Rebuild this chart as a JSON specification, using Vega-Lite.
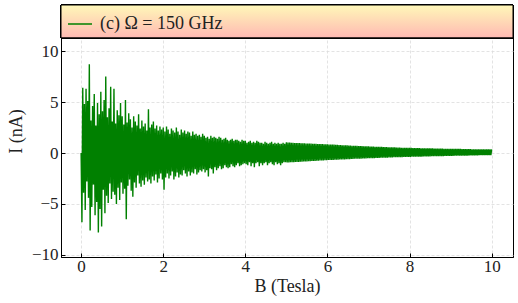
{
"$schema": "https://vega.github.io/schema/vega-lite/v6.json",
"width": 452, "height": 252,
"autosize": "none",
"padding": {"left": 61, "top": 5, "right": 5, "bottom": 46},
"config": {
  "view": {"stroke": "black", "strokeWidth": 1},
  "font": "Liberation Serif",
  "axis": {"domainColor": "black", "tickColor": "black", "tickSize": -4, "labelFont": "Liberation Serif", "labelFontSize": 17, "labelColor": "#222", "titleFont": "Liberation Serif", "titleFontSize": 18, "titleFontWeight": "normal", "titleColor": "#222", "gridColor": "#dcdcdc", "gridDash": [3, 2], "gridWidth": 0.8},
  "legend": {"orient": "top-left", "offset": 6, "padding": 0, "symbolType": "stroke", "symbolSize": 576, "symbolStrokeWidth": 1.5, "labelFont": "Liberation Serif", "labelFontSize": 18, "labelColor": "#222", "labelOffset": 7}
},
"data": {"values": [
{"B":0,"I":0},{"B":0.02,"I":-6.8},{"B":0.04,"I":6.4},{"B":0.06,"I":-3.9},{"B":0.08,"I":4.8},{"B":0.1,"I":-5.6},{"B":0.12,"I":6.3},{"B":0.14,"I":-2.8},{"B":0.16,"I":5.1},{"B":0.18,"I":-4.4},
{"B":0.2,"I":8.7},{"B":0.22,"I":-7.6},{"B":0.24,"I":3.2},{"B":0.26,"I":-5.3},{"B":0.28,"I":4.6},{"B":0.3,"I":-3.1},{"B":0.32,"I":5.8},{"B":0.34,"I":-6.1},{"B":0.36,"I":2.7},{"B":0.38,"I":-4.8},
{"B":0.4,"I":4.9},{"B":0.42,"I":-7.8},{"B":0.44,"I":3.8},{"B":0.46,"I":-5.5},{"B":0.48,"I":6.0},{"B":0.5,"I":-7.2},{"B":0.52,"I":4.1},{"B":0.54,"I":-3.6},{"B":0.56,"I":5.2},{"B":0.58,"I":-5.9},
{"B":0.6,"I":7.5},{"B":0.62,"I":-4.2},{"B":0.64,"I":3.5},{"B":0.66,"I":-4.9},{"B":0.68,"I":4.4},{"B":0.7,"I":-3.0},{"B":0.72,"I":6.5},{"B":0.74,"I":-4.5},{"B":0.76,"I":3.1},{"B":0.78,"I":-3.8},
{"B":0.8,"I":6.3},{"B":0.82,"I":-4.1},{"B":0.84,"I":2.9},{"B":0.86,"I":-5.0},{"B":0.88,"I":4.2},{"B":0.9,"I":-3.4},{"B":0.92,"I":3.7},{"B":0.94,"I":-4.6},{"B":0.96,"I":4.9},{"B":0.98,"I":-2.9},
{"B":1.0,"I":3.6},{"B":1.02,"I":-4.0},{"B":1.04,"I":2.8},{"B":1.06,"I":-3.5},{"B":1.08,"I":5.2},{"B":1.1,"I":-6.5},{"B":1.12,"I":3.0},{"B":1.14,"I":-3.2},{"B":1.16,"I":3.9},{"B":1.18,"I":-2.6},
{"B":1.2,"I":3.3},{"B":1.22,"I":-3.7},{"B":1.24,"I":2.5},{"B":1.26,"I":-4.3},{"B":1.28,"I":3.6},{"B":1.3,"I":-2.9},{"B":1.32,"I":3.1},{"B":1.34,"I":-3.4},{"B":1.36,"I":2.7},{"B":1.38,"I":-2.2},
{"B":1.4,"I":3.8},{"B":1.42,"I":-3.0},{"B":1.44,"I":2.4},{"B":1.46,"I":-3.3},{"B":1.48,"I":3.2},{"B":1.5,"I":-2.7},{"B":1.52,"I":2.6},{"B":1.54,"I":-3.1},{"B":1.56,"I":2.9},{"B":1.58,"I":-2.4},
{"B":1.6,"I":2.2},{"B":1.62,"I":-2.8},{"B":1.64,"I":4.3},{"B":1.66,"I":-2.6},{"B":1.68,"I":2.5},{"B":1.7,"I":-3.0},{"B":1.72,"I":2.8},{"B":1.74,"I":-2.3},{"B":1.76,"I":3.1},{"B":1.78,"I":-2.7},
{"B":1.8,"I":2.4},{"B":1.82,"I":-2.1},{"B":1.84,"I":2.7},{"B":1.86,"I":-2.9},{"B":1.88,"I":2.2},{"B":1.9,"I":-2.5},{"B":1.92,"I":2.6},{"B":1.94,"I":-2.0},{"B":1.96,"I":2.3},{"B":1.98,"I":-2.6},
{"B":2.0,"I":2.5},{"B":2.02,"I":-3.6},{"B":2.04,"I":2.1},{"B":2.06,"I":-2.4},{"B":2.08,"I":2.6},{"B":2.1,"I":-2.0},{"B":2.12,"I":2.3},{"B":2.14,"I":-2.5},{"B":2.16,"I":1.9},{"B":2.18,"I":-2.2},
{"B":2.2,"I":2.4},{"B":2.22,"I":-1.8},{"B":2.24,"I":2.2},{"B":2.26,"I":-2.6},{"B":2.28,"I":2.0},{"B":2.3,"I":-2.3},{"B":2.32,"I":2.5},{"B":2.34,"I":-1.9},{"B":2.36,"I":2.1},{"B":2.38,"I":-2.4},
{"B":2.4,"I":1.8},{"B":2.42,"I":-2.1},{"B":2.44,"I":2.3},{"B":2.46,"I":-2.2},{"B":2.48,"I":2.0},{"B":2.5,"I":-1.7},{"B":2.52,"I":2.2},{"B":2.54,"I":-2.0},{"B":2.56,"I":1.9},{"B":2.58,"I":-2.3},
{"B":2.6,"I":2.1},{"B":2.62,"I":-1.8},{"B":2.64,"I":2.0},{"B":2.66,"I":-2.2},{"B":2.68,"I":1.7},{"B":2.7,"I":-1.9},{"B":2.72,"I":2.1},{"B":2.74,"I":-2.0},{"B":2.76,"I":1.8},{"B":2.78,"I":-1.6},
{"B":2.8,"I":1.9},{"B":2.82,"I":-2.1},{"B":2.84,"I":1.7},{"B":2.86,"I":-1.9},{"B":2.88,"I":1.8},{"B":2.9,"I":-1.7},{"B":2.92,"I":1.6},{"B":2.94,"I":-1.8},{"B":2.96,"I":1.9},{"B":2.98,"I":-1.6},
{"B":3.0,"I":1.7},{"B":3.02,"I":-1.9},{"B":3.04,"I":1.5},{"B":3.06,"I":-1.7},{"B":3.08,"I":1.6},{"B":3.1,"I":-2.3},{"B":3.12,"I":1.4},{"B":3.14,"I":-1.5},{"B":3.16,"I":1.7},{"B":3.18,"I":-1.6},
{"B":3.2,"I":1.5},{"B":3.22,"I":-2.0},{"B":3.24,"I":1.6},{"B":3.26,"I":-1.4},{"B":3.28,"I":1.5},{"B":3.3,"I":-1.7},{"B":3.32,"I":1.4},{"B":3.34,"I":-1.5},{"B":3.36,"I":1.6},{"B":3.38,"I":-1.3},
{"B":3.4,"I":1.5},{"B":3.42,"I":-1.6},{"B":3.44,"I":1.3},{"B":3.46,"I":-1.5},{"B":3.48,"I":1.4},{"B":3.5,"I":-1.2},{"B":3.52,"I":1.5},{"B":3.54,"I":-1.4},{"B":3.56,"I":1.3},{"B":3.58,"I":-1.5},
{"B":3.6,"I":1.2},{"B":3.62,"I":-1.4},{"B":3.64,"I":1.3},{"B":3.66,"I":-1.1},{"B":3.68,"I":1.4},{"B":3.7,"I":-1.3},{"B":3.72,"I":1.2},{"B":3.74,"I":-1.4},{"B":3.76,"I":1.3},{"B":3.78,"I":-1.2},
{"B":3.8,"I":1.3},{"B":3.82,"I":-1.0},{"B":3.84,"I":1.2},{"B":3.86,"I":-1.3},{"B":3.88,"I":1.1},{"B":3.9,"I":-1.2},{"B":3.92,"I":1.3},{"B":3.94,"I":-1.1},{"B":3.96,"I":1.2},{"B":3.98,"I":-1.0},
{"B":4.0,"I":1.2},{"B":4.02,"I":-1.1},{"B":4.04,"I":1.0},{"B":4.06,"I":-1.2},{"B":4.08,"I":1.1},{"B":4.1,"I":-0.9},{"B":4.12,"I":1.2},{"B":4.14,"I":-1.3},{"B":4.16,"I":1.0},{"B":4.18,"I":-1.0},
{"B":4.2,"I":1.1},{"B":4.22,"I":-1.4},{"B":4.24,"I":1.0},{"B":4.26,"I":-1.0},{"B":4.28,"I":1.2},{"B":4.3,"I":-0.9},{"B":4.32,"I":1.1},{"B":4.34,"I":-1.3},{"B":4.36,"I":1.0},{"B":4.38,"I":-1.0},
{"B":4.4,"I":1.0},{"B":4.42,"I":-1.2},{"B":4.44,"I":0.9},{"B":4.46,"I":-1.0},{"B":4.48,"I":1.1},{"B":4.5,"I":-0.9},{"B":4.52,"I":1.0},{"B":4.54,"I":-1.2},{"B":4.56,"I":0.9},{"B":4.58,"I":-1.0},
{"B":4.6,"I":1.0},{"B":4.62,"I":-0.9},{"B":4.64,"I":1.1},{"B":4.66,"I":-1.1},{"B":4.68,"I":0.9},{"B":4.7,"I":-1.2},{"B":4.72,"I":1.0},{"B":4.74,"I":-0.9},{"B":4.76,"I":0.9},{"B":4.78,"I":-1.1},
{"B":4.8,"I":1.0},{"B":4.82,"I":-1.0},{"B":4.84,"I":0.9},{"B":4.86,"I":-1.2},{"B":4.88,"I":0.9},{"B":4.9,"I":-1.0},{"B":4.92,"I":1.0},{"B":4.94,"I":-0.9},{"B":4.96,"I":0.9},{"B":4.98,"I":-0.9},
{"B":5.0,"I":1.05},
{"B":5.02,"I":-0.93},{"B":5.04,"I":1.02},{"B":5.06,"I":-0.92},{"B":5.08,"I":1.02},{"B":5.1,"I":-0.91},{"B":5.12,"I":1.01},{"B":5.14,"I":-0.91},{"B":5.16,"I":1.0},{"B":5.18,"I":-0.9},{"B":5.2,"I":0.99},
{"B":5.22,"I":-0.89},{"B":5.24,"I":0.99},{"B":5.26,"I":-0.88},{"B":5.28,"I":0.98},{"B":5.3,"I":-0.87},{"B":5.32,"I":0.97},{"B":5.34,"I":-0.86},{"B":5.36,"I":0.96},{"B":5.38,"I":-0.85},{"B":5.4,"I":0.96},
{"B":5.42,"I":-0.84},{"B":5.44,"I":0.95},{"B":5.46,"I":-0.83},{"B":5.48,"I":0.94},{"B":5.5,"I":-0.82},{"B":5.52,"I":0.93},{"B":5.54,"I":-0.81},{"B":5.56,"I":0.93},{"B":5.58,"I":-0.8},{"B":5.6,"I":0.92},
{"B":5.62,"I":-0.79},{"B":5.64,"I":0.91},{"B":5.66,"I":-0.78},{"B":5.68,"I":0.9},{"B":5.7,"I":-0.77},{"B":5.72,"I":0.9},{"B":5.74,"I":-0.76},{"B":5.76,"I":0.89},{"B":5.78,"I":-0.75},{"B":5.8,"I":0.88},
{"B":5.82,"I":-0.74},{"B":5.84,"I":0.87},{"B":5.86,"I":-0.73},{"B":5.88,"I":0.87},{"B":5.9,"I":-0.72},{"B":5.92,"I":0.86},{"B":5.94,"I":-0.71},{"B":5.96,"I":0.85},{"B":5.98,"I":-0.7},{"B":6.0,"I":0.85},
{"B":6.02,"I":-0.69},{"B":6.04,"I":0.84},{"B":6.06,"I":-0.69},{"B":6.08,"I":0.83},{"B":6.1,"I":-0.68},{"B":6.12,"I":0.82},{"B":6.14,"I":-0.67},{"B":6.16,"I":0.82},{"B":6.18,"I":-0.66},{"B":6.2,"I":0.81},
{"B":6.22,"I":-0.66},{"B":6.24,"I":0.8},{"B":6.26,"I":-0.65},{"B":6.28,"I":0.79},{"B":6.3,"I":-0.64},{"B":6.32,"I":0.78},{"B":6.34,"I":-0.63},{"B":6.36,"I":0.77},{"B":6.38,"I":-0.63},{"B":6.4,"I":0.77},
{"B":6.42,"I":-0.62},{"B":6.44,"I":0.76},{"B":6.46,"I":-0.61},{"B":6.48,"I":0.75},{"B":6.5,"I":-0.6},{"B":6.52,"I":0.74},{"B":6.54,"I":-0.6},{"B":6.56,"I":0.73},{"B":6.58,"I":-0.59},{"B":6.6,"I":0.72},
{"B":6.62,"I":-0.58},{"B":6.64,"I":0.72},{"B":6.66,"I":-0.57},{"B":6.68,"I":0.71},{"B":6.7,"I":-0.57},{"B":6.72,"I":0.7},{"B":6.74,"I":-0.56},{"B":6.76,"I":0.69},{"B":6.78,"I":-0.55},{"B":6.8,"I":0.68},
{"B":6.82,"I":-0.55},{"B":6.84,"I":0.68},{"B":6.86,"I":-0.54},{"B":6.88,"I":0.67},{"B":6.9,"I":-0.53},{"B":6.92,"I":0.66},{"B":6.94,"I":-0.53},{"B":6.96,"I":0.66},{"B":6.98,"I":-0.52},{"B":7.0,"I":0.65},
{"B":7.02,"I":-0.51},{"B":7.04,"I":0.64},{"B":7.06,"I":-0.51},{"B":7.08,"I":0.64},{"B":7.1,"I":-0.5},{"B":7.12,"I":0.63},{"B":7.14,"I":-0.5},{"B":7.16,"I":0.62},{"B":7.18,"I":-0.49},{"B":7.2,"I":0.62},
{"B":7.22,"I":-0.48},{"B":7.24,"I":0.61},{"B":7.26,"I":-0.48},{"B":7.28,"I":0.6},{"B":7.3,"I":-0.47},{"B":7.32,"I":0.6},{"B":7.34,"I":-0.47},{"B":7.36,"I":0.59},{"B":7.38,"I":-0.46},{"B":7.4,"I":0.58},
{"B":7.42,"I":-0.45},{"B":7.44,"I":0.58},{"B":7.46,"I":-0.45},{"B":7.48,"I":0.57},{"B":7.5,"I":-0.44},{"B":7.52,"I":0.57},{"B":7.54,"I":-0.44},{"B":7.56,"I":0.56},{"B":7.58,"I":-0.43},{"B":7.6,"I":0.55},
{"B":7.62,"I":-0.42},{"B":7.64,"I":0.55},{"B":7.66,"I":-0.42},{"B":7.68,"I":0.54},{"B":7.7,"I":-0.41},{"B":7.72,"I":0.54},{"B":7.74,"I":-0.41},{"B":7.76,"I":0.53},{"B":7.78,"I":-0.4},{"B":7.8,"I":0.52},
{"B":7.82,"I":-0.4},{"B":7.84,"I":0.52},{"B":7.86,"I":-0.39},{"B":7.88,"I":0.51},{"B":7.9,"I":-0.39},{"B":7.92,"I":0.51},{"B":7.94,"I":-0.38},{"B":7.96,"I":0.5},{"B":7.98,"I":-0.38},{"B":8.0,"I":0.5},
{"B":8.02,"I":-0.38},{"B":8.04,"I":0.5},{"B":8.06,"I":-0.37},{"B":8.08,"I":0.49},{"B":8.1,"I":-0.37},{"B":8.12,"I":0.49},{"B":8.14,"I":-0.36},{"B":8.16,"I":0.49},{"B":8.18,"I":-0.36},{"B":8.2,"I":0.48},
{"B":8.22,"I":-0.35},{"B":8.24,"I":0.48},{"B":8.26,"I":-0.35},{"B":8.28,"I":0.47},{"B":8.3,"I":-0.35},{"B":8.32,"I":0.47},{"B":8.34,"I":-0.34},{"B":8.36,"I":0.47},{"B":8.38,"I":-0.34},{"B":8.4,"I":0.46},
{"B":8.42,"I":-0.33},{"B":8.44,"I":0.46},{"B":8.46,"I":-0.33},{"B":8.48,"I":0.45},{"B":8.5,"I":-0.33},{"B":8.52,"I":0.45},{"B":8.54,"I":-0.32},{"B":8.56,"I":0.45},{"B":8.58,"I":-0.32},{"B":8.6,"I":0.44},
{"B":8.62,"I":-0.31},{"B":8.64,"I":0.44},{"B":8.66,"I":-0.31},{"B":8.68,"I":0.44},{"B":8.7,"I":-0.31},{"B":8.72,"I":0.43},{"B":8.74,"I":-0.3},{"B":8.76,"I":0.43},{"B":8.78,"I":-0.3},{"B":8.8,"I":0.43},
{"B":8.82,"I":-0.3},{"B":8.84,"I":0.42},{"B":8.86,"I":-0.29},{"B":8.88,"I":0.42},{"B":8.9,"I":-0.29},{"B":8.92,"I":0.42},{"B":8.94,"I":-0.28},{"B":8.96,"I":0.42},{"B":8.98,"I":-0.28},{"B":9.0,"I":0.42},
{"B":9.02,"I":-0.28},{"B":9.04,"I":0.41},{"B":9.06,"I":-0.28},{"B":9.08,"I":0.41},{"B":9.1,"I":-0.27},{"B":9.12,"I":0.41},{"B":9.14,"I":-0.27},{"B":9.16,"I":0.4},{"B":9.18,"I":-0.27},{"B":9.2,"I":0.4},
{"B":9.22,"I":-0.26},{"B":9.24,"I":0.4},{"B":9.26,"I":-0.26},{"B":9.28,"I":0.39},{"B":9.3,"I":-0.26},{"B":9.32,"I":0.39},{"B":9.34,"I":-0.25},{"B":9.36,"I":0.39},{"B":9.38,"I":-0.25},{"B":9.4,"I":0.38},
{"B":9.42,"I":-0.25},{"B":9.44,"I":0.38},{"B":9.46,"I":-0.24},{"B":9.48,"I":0.38},{"B":9.5,"I":-0.24},{"B":9.52,"I":0.37},{"B":9.54,"I":-0.24},{"B":9.56,"I":0.37},{"B":9.58,"I":-0.23},{"B":9.6,"I":0.37},
{"B":9.62,"I":-0.23},{"B":9.64,"I":0.37},{"B":9.66,"I":-0.23},{"B":9.68,"I":0.36},{"B":9.7,"I":-0.22},{"B":9.72,"I":0.36},{"B":9.74,"I":-0.22},{"B":9.76,"I":0.36},{"B":9.78,"I":-0.22},{"B":9.8,"I":0.36},
{"B":9.82,"I":-0.22},{"B":9.84,"I":0.35},{"B":9.86,"I":-0.21},{"B":9.88,"I":0.35},{"B":9.9,"I":-0.21},{"B":9.92,"I":0.35},{"B":9.94,"I":-0.21},{"B":9.96,"I":0.35},{"B":9.98,"I":-0.21},{"B":10.0,"I":0.35}
]},
"layer": [
  {
    "mark": {"type": "line", "strokeWidth": 1.4, "clip": true},
    "encoding": {
      "x": {"field": "B", "type": "quantitative", "scale": {"domain": [-0.49, 10.52], "nice": false, "zero": false}, "axis": {"values": [0, 2, 4, 6, 8, 10], "title": "B (Tesla)", "labelPadding": 5, "titlePadding": 3}},
      "y": {"field": "I", "type": "quantitative", "scale": {"domain": [-10.2, 14.52], "nice": false, "zero": false}, "axis": {"values": [-10, -5, 0, 5, 10], "title": "I (nA)", "labelPadding": 7, "titlePadding": 6}},
      "color": {"datum": "(c) Ω = 150 GHz", "type": "nominal", "scale": {"range": ["#008000"]}, "legend": {"title": null}}
    }
  },
  {
    "mark": {"type": "rect", "stroke": "black", "strokeWidth": 1, "fill": {"gradient": "linear", "x1": 0, "y1": 0, "x2": 0, "y2": 1, "stops": [{"offset": 0, "color": "#fff8b8"}, {"offset": 1, "color": "#ffb9b3"}]}},
    "encoding": {
      "x": {"datum": -0.49, "type": "quantitative"},
      "x2": {"datum": 10.52},
      "y": {"datum": 11.3, "type": "quantitative"},
      "y2": {"datum": 14.52}
    }
  }
]
}
